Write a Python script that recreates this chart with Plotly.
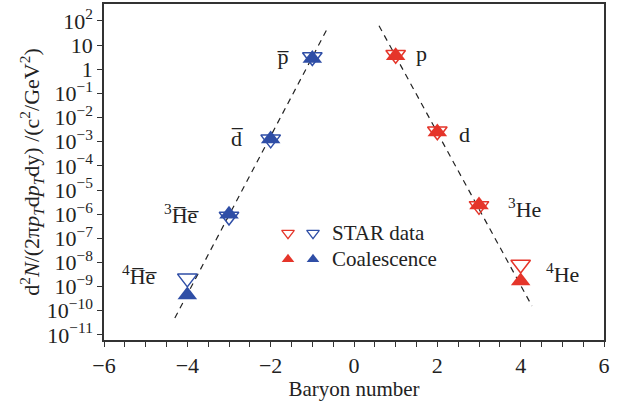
import math
import plotly.graph_objects as go

# Baryon number of each species
anti_b = [-1, -2, -3, -4]
matter_b = [1, 2, 3, 4]

# STAR measured yields d2N/(2pi pT dpT dy)
star_anti = [3.2, 1.25e-3, 8.0e-7, 2.2e-9]
star_matter = [4.0, 2.7e-3, 2.2e-6, 8.3e-9]

# Coalescence model yields
coal_anti = [2.8, 1.3e-3, 1.0e-6, 4.5e-10]
coal_matter = [3.6, 2.5e-3, 2.4e-6, 1.7e-9]

# Exponential fit lines (end points)
fit_anti_x = [-4.3, -0.62]
fit_anti_y = [10 ** -10.3, 10 ** 1.75]
fit_matter_x = [0.6, 4.27]
fit_matter_y = [10 ** 1.8, 10 ** -9.8]

# Species labels
anti_labels = ["p\u0305", "d\u0305", "<sup>3</sup>H\u0305e\u0305", "<sup>4</sup>H\u0305e\u0305"]
matter_labels = ["p", "d", "<sup>3</sup>He", "<sup>4</sup>He"]
anti_label_x = [-1.70, -2.81, -4.15, -5.15]
anti_label_logy = [0.52, -2.87, -6.0, -8.5]
matter_label_x = [1.63, 2.64, 4.08, 5.0]
matter_label_logy = [0.64, -2.7, -5.75, -8.45]

# Y tick values and labels
ytick_exp = list(range(2, -12, -1))
ymin_exp, ymax_exp = -11.21, 2.70


def ytext(e):
    if e == 1:
        return "10"
    if e == 0:
        return "1"
    if e < 0:
        return "10<sup>\u2212%d</sup>" % (-e)
    return "10<sup>%d</sup>" % e


# Minor log ticks (2..9 x 10^e) inside the axis range
minor_vals = [m * 10 ** e for e in range(-12, 3) for m in range(2, 10)
              if ymin_exp <= math.log10(m * 10 ** e) <= ymax_exp]

RED = "#e5352a"
BLUE = "#2f4ea6"
INK = "#222222"
FONT = "Liberation Serif"

fig = go.Figure()

for fx, fy in [(fit_anti_x, fit_anti_y), (fit_matter_x, fit_matter_y)]:
    fig.add_trace(go.Scatter(
        x=fx, y=fy, mode="lines",
        line=dict(color=INK, width=1.2, dash="6px,5px"),
        showlegend=False, hoverinfo="skip"))

fig.add_trace(go.Scatter(
    x=anti_b, y=coal_anti, mode="markers",
    marker=dict(symbol="triangle-up", size=17, color=BLUE),
    showlegend=False))
fig.add_trace(go.Scatter(
    x=matter_b, y=coal_matter, mode="markers",
    marker=dict(symbol="triangle-up", size=17, color=RED),
    showlegend=False))
fig.add_trace(go.Scatter(
    x=anti_b, y=star_anti, mode="markers",
    marker=dict(symbol="triangle-down-open", size=17, color=BLUE,
                line=dict(width=1.5, color=BLUE)),
    showlegend=False))
fig.add_trace(go.Scatter(
    x=matter_b, y=star_matter, mode="markers",
    marker=dict(symbol="triangle-down-open", size=17, color=RED,
                line=dict(width=1.5, color=RED)),
    showlegend=False))

# Legend drawn on a hidden overlay axis in plot-area units
leg_sym_x = [0.368, 0.418]
leg_rows_y = [0.318, 0.24]
fig.add_trace(go.Scatter(
    x=leg_sym_x, y=[leg_rows_y[0]] * 2, xaxis="x2", yaxis="y2", mode="markers",
    marker=dict(symbol="triangle-down-open", size=11, color=[RED, BLUE],
                line=dict(width=1.3, color=[RED, BLUE])),
    showlegend=False, hoverinfo="skip"))
fig.add_trace(go.Scatter(
    x=leg_sym_x, y=[leg_rows_y[1]] * 2, xaxis="x2", yaxis="y2", mode="markers",
    marker=dict(symbol="triangle-up", size=11, color=[RED, BLUE]),
    showlegend=False, hoverinfo="skip"))

annotations = []
for txt, yy in zip(["STAR data", "Coalescence"], leg_rows_y):
    annotations.append(dict(
        x=0.452, y=yy, xref="x2", yref="y2", text=txt, showarrow=False,
        xanchor="left", yanchor="middle",
        font=dict(family=FONT, size=21, color=INK)))

for txt, lx, ly in zip(anti_labels + matter_labels,
                       anti_label_x + matter_label_x,
                       anti_label_logy + matter_label_logy):
    annotations.append(dict(
        x=lx, y=ly, xref="x", yref="y", text=txt, showarrow=False,
        xanchor="center", yanchor="middle",
        font=dict(family=FONT, size=22, color=INK)))

fig.update_layout(
    width=629, height=401,
    margin=dict(l=104, r=25, t=2, b=61),
    paper_bgcolor="white", plot_bgcolor="white",
    font=dict(family=FONT, size=20, color=INK),
    annotations=annotations,
    xaxis=dict(
        range=[-6, 6], dtick=2, tick0=-6,
        ticks="outside", ticklen=5, tickwidth=1, tickcolor="#333",
        minor=dict(dtick=0.5, tick0=-6, ticks="outside", ticklen=5,
                   tickcolor="#333"),
        showgrid=False, zeroline=False,
        showline=True, linecolor="#333", linewidth=1.5, mirror=True,
        tickfont=dict(family=FONT, size=22),
        title=dict(text="Baryon number", font=dict(family=FONT, size=21),
                   standoff=5),
    ),
    yaxis=dict(
        type="log", range=[ymin_exp, ymax_exp],
        tickvals=[10 ** e for e in ytick_exp],
        ticktext=[ytext(e) for e in ytick_exp],
        ticks="outside", ticklen=5, tickwidth=1, tickcolor="#333",
        showgrid=False, zeroline=False,
        showline=True, linecolor="#333", linewidth=1.5, mirror=True,
        tickfont=dict(family=FONT, size=22),
        title=dict(
            text="d<sup>2</sup><i>N</i>/(2\u03c0<i>p</i><sub><i>T</i></sub>d<i>p</i>"
                 "<sub><i>T</i></sub>dy) /(c<sup>2</sup>/GeV<sup>2</sup>)",
            font=dict(family=FONT, size=22), standoff=0),
    ),
    yaxis3=dict(
        type="log", range=[ymin_exp, ymax_exp], overlaying="y", anchor="x",
        side="left", tickvals=minor_vals, ticks="outside", ticklen=3,
        tickwidth=1, tickcolor="#333", showticklabels=False,
        showgrid=False, zeroline=False, showline=False,
    ),
    xaxis2=dict(range=[0, 1], overlaying="x", visible=False),
    yaxis2=dict(range=[0, 1], overlaying="y", visible=False),
)

fig.write_html("out.html")
